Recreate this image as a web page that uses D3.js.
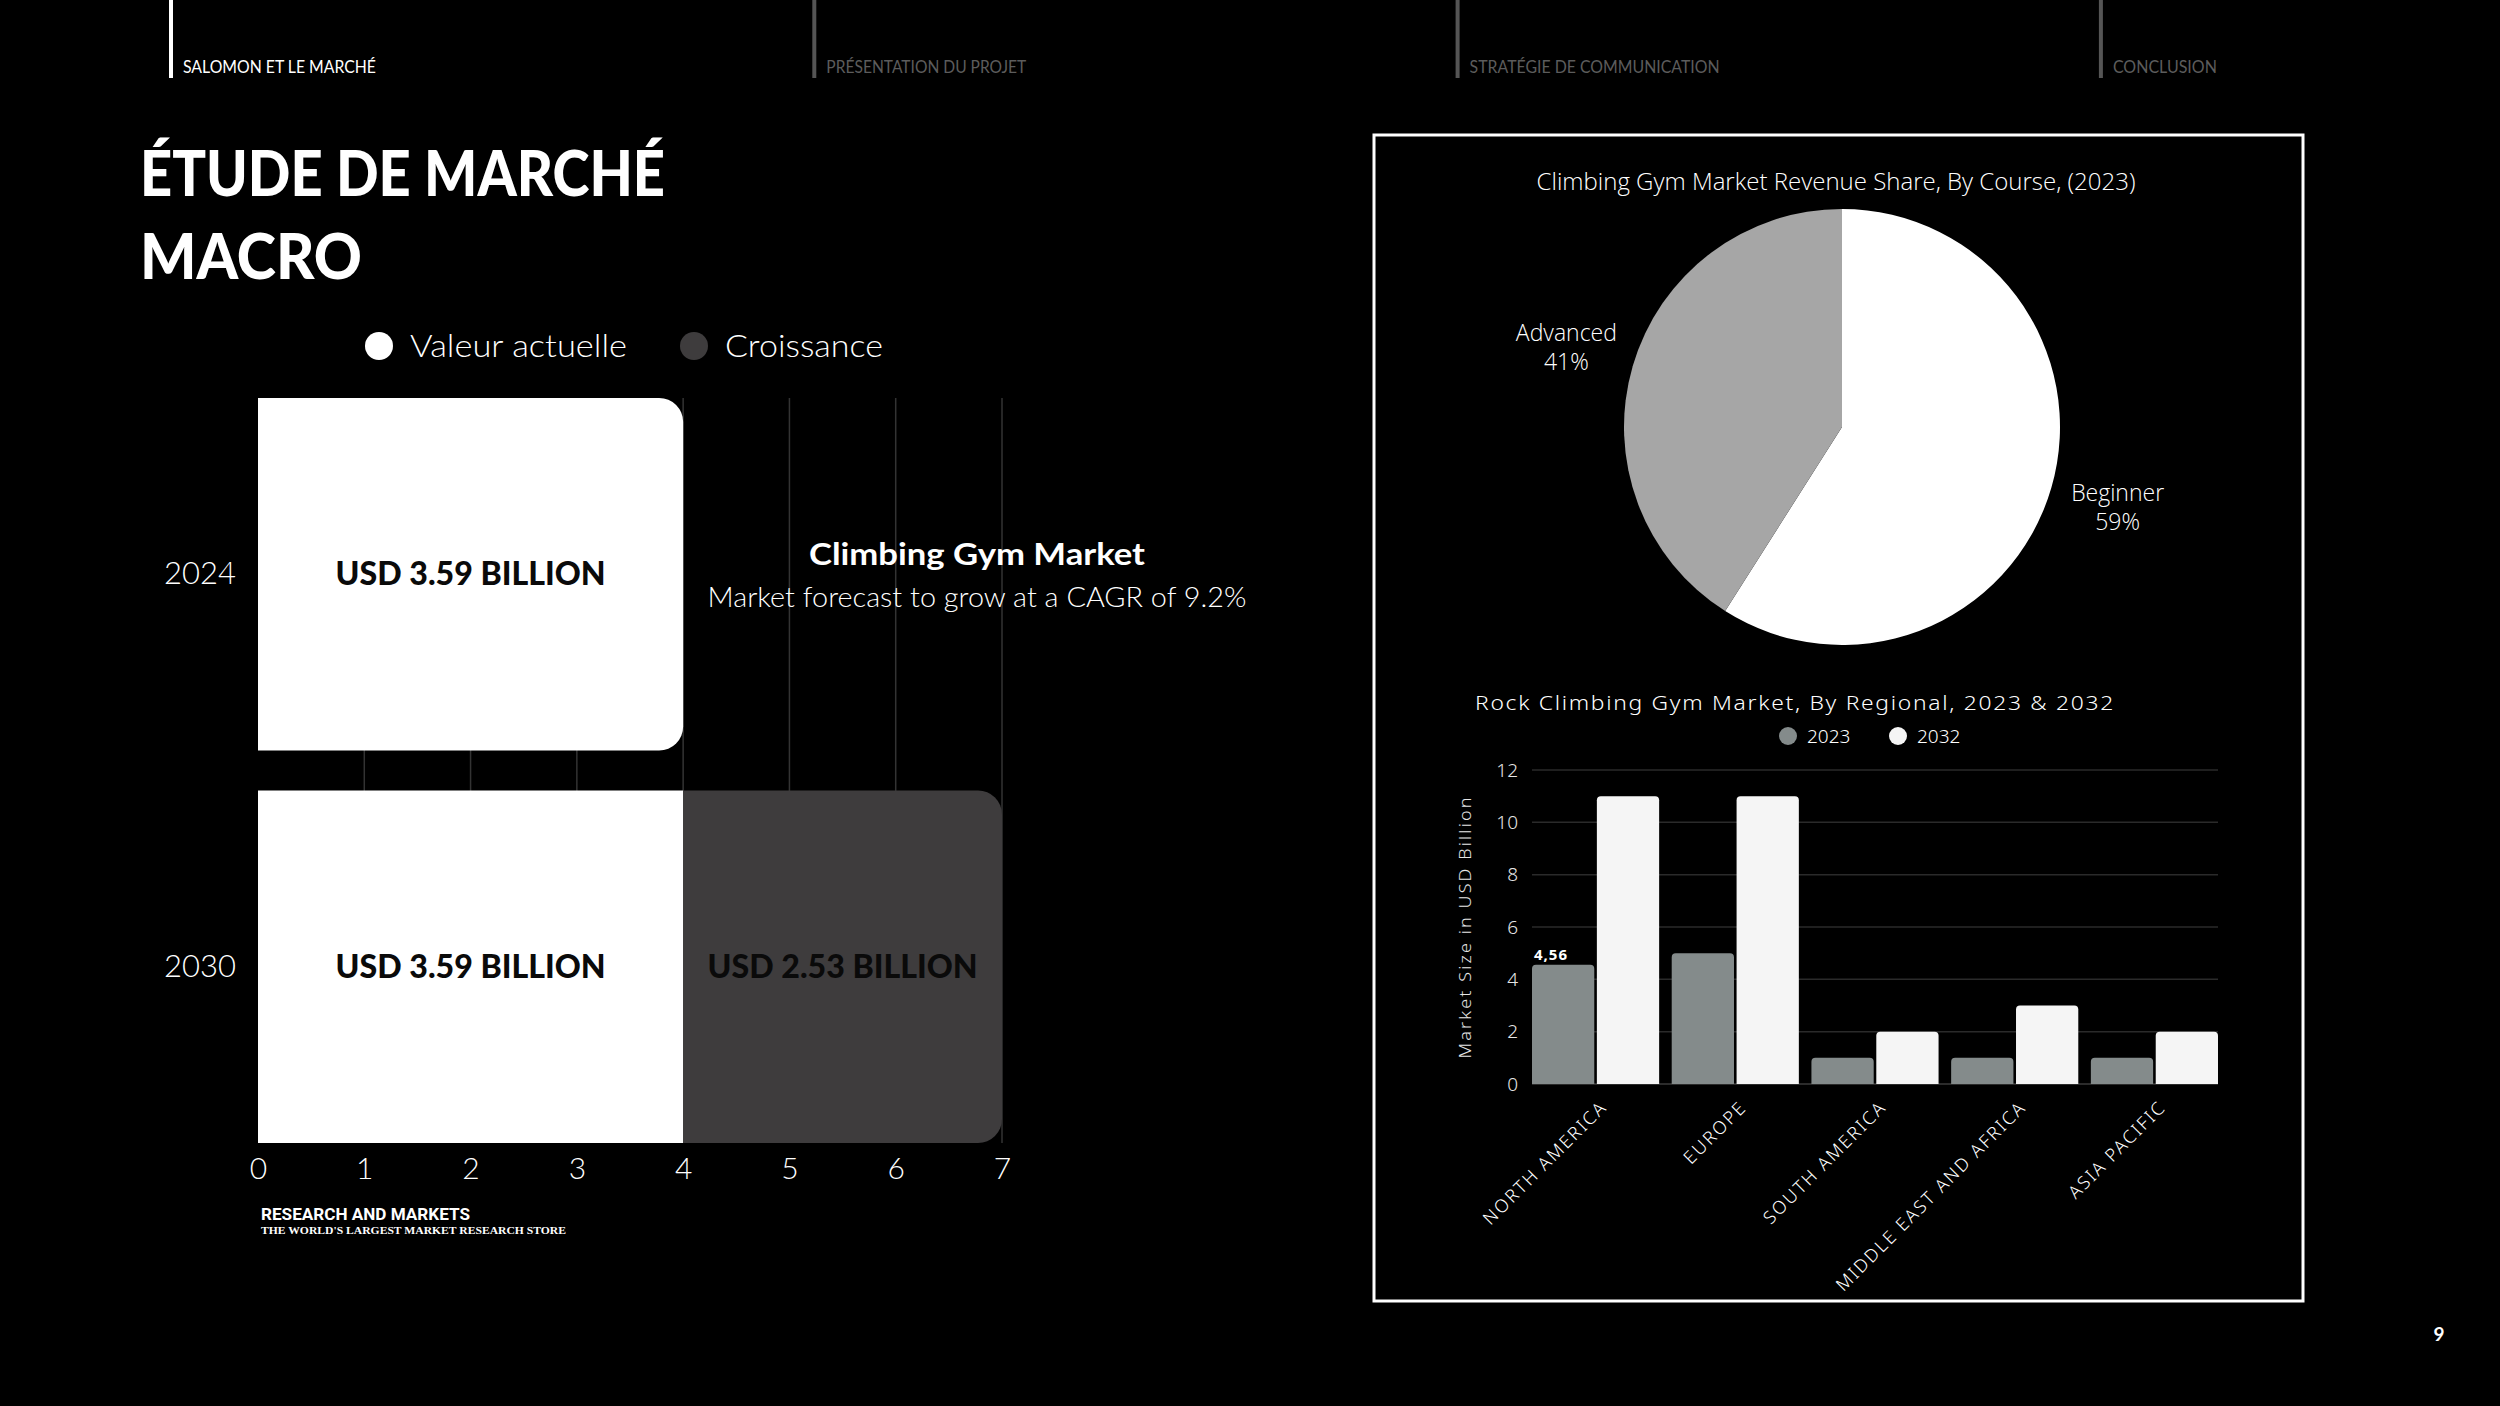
<!DOCTYPE html>
<html>
<head>
<meta charset="utf-8">
<script src="https://cdn.jsdelivr.net/npm/d3@7"></script>
<style>
  html, body { margin: 0; padding: 0; background: #000; }
  svg { display: block; }
</style>
</head>
<body>
<div id="slide"></div>
<script>
// slide header
const navItems = ["SALOMON ET LE MARCHÉ", "PRÉSENTATION DU PROJET", "STRATÉGIE DE COMMUNICATION", "CONCLUSION"];
const titleLines = ["ÉTUDE DE MARCHÉ", "MACRO"];

// left chart : market value
const marketYears = ["2024", "2030"];
const valeurActuelle = [4, 4];
const croissance = [0, 3];
const valeurLabels = ["USD 3.59 BILLION", "USD 3.59 BILLION"];
const croissanceLabels = ["", "USD 2.53 BILLION"];
const marketTicks = [0, 1, 2, 3, 4, 5, 6, 7];
const seriesNames = ["Valeur actuelle", "Croissance"];

// pie : revenue share by course
const courses = ["Beginner", "Advanced"];
const courseShare = [59, 41];

// regional bars
const regions = ["NORTH AMERICA", "EUROPE", "SOUTH AMERICA", "MIDDLE EAST AND AFRICA", "ASIA PACIFIC"];
const regionYears = ["2023", "2032"];
const size2023 = [4.56, 5, 1, 1, 1];
const size2032 = [11, 11, 2, 3, 2];
const sizeTicks = [0, 2, 4, 6, 8, 10, 12];

const W = 2500, H = 1406;
const svg = d3.select("#slide").append("svg")
  .attr("width", W)
  .attr("height", H);

svg.append("rect").attr("width", W).attr("height", H).attr("fill", "#000");

// Header nav
const nav = svg.append("g").selectAll("g")
  .data(navItems)
  .join("g")
  .attr("transform", (d, i) => `translate(${171 + i * 643.3},0)`);

nav.append("line")
  .attr("x1", 0).attr("x2", 0)
  .attr("y1", 0).attr("y2", 78)
  .attr("stroke", (d, i) => i === 0 ? "#fff" : "#555")
  .attr("stroke-width", 4);

const navWidths = [193, 200, 250, 104];
nav.append("text")
  .attr("x", 12)
  .attr("y", 73)
  .attr("fill", (d, i) => i === 0 ? "#fff" : "#5c5c5c")
  .style("font-family", "Lato, sans-serif")
  .style("font-size", "18px")
  .attr("textLength", (d, i) => navWidths[i])
  .attr("lengthAdjust", "spacingAndGlyphs")
  .text(d => d);

// Title
svg.append("g").selectAll("text")
  .data(titleLines)
  .join("text")
  .attr("x", 140)
  .attr("y", (d, i) => 196 + i * 83)
  .attr("fill", "#fff")
  .style("font-family", "Lato, sans-serif")
  .style("font-weight", 900)
  .style("font-size", "62px")
  .attr("textLength", (d, i) => i === 0 ? 525 : 222)
  .attr("lengthAdjust", "spacingAndGlyphs")
  .text(d => d);

// ---- Left chart ----
const x = d3.scaleLinear().domain([0, 7]).range([258, 1002]);
const y = d3.scaleBand().domain(marketYears).range([398, 1143]).paddingInner(0.102).paddingOuter(0);
const seriesColor = ["#ffffff", "#3e3c3d"];

// legend
const legendWidths = [217, 158];
const legend = svg.append("g").selectAll("g")
  .data(seriesNames)
  .join("g")
  .attr("transform", (d, i) => `translate(${i === 0 ? 379 : 694},346)`);
legend.append("circle").attr("r", 14).attr("fill", (d, i) => seriesColor[i]);
legend.append("text")
  .attr("x", 31)
  .attr("dy", "0.35em")
  .attr("fill", "#fff")
  .style("font-family", "Lato, sans-serif")
  .style("font-weight", 300)
  .style("font-size", "31px")
  .attr("textLength", (d, i) => legendWidths[i])
  .attr("lengthAdjust", "spacingAndGlyphs")
  .text(d => d);

// grid
svg.append("g").selectAll("line")
  .data(marketTicks.slice(1))
  .join("line")
  .attr("x1", d => x(d)).attr("x2", d => x(d))
  .attr("y1", y.range()[0]).attr("y2", y.range()[1])
  .attr("stroke", "#333")
  .attr("stroke-width", 1.5);

function barPath(x0, x1, y0, y1, r) {
  r = Math.min(r, (x1 - x0), (y1 - y0) / 2);
  if (r <= 0) return `M${x0},${y0}H${x1}V${y1}H${x0}Z`;
  return `M${x0},${y0}H${x1 - r}A${r},${r} 0 0 1 ${x1},${y0 + r}` +
    `V${y1 - r}A${r},${r} 0 0 1 ${x1 - r},${y1}H${x0}Z`;
}

const segments = [];
marketYears.forEach((yr, i) => {
  const v = valeurActuelle[i], c = croissance[i];
  segments.push({ year: yr, s: 0, x0: 0, x1: v, label: valeurLabels[i], last: c === 0 });
  if (c > 0) segments.push({ year: yr, s: 1, x0: v, x1: v + c, label: croissanceLabels[i], last: true });
});

const seg = svg.append("g").selectAll("g")
  .data(segments)
  .join("g");

seg.append("path")
  .attr("d", d => barPath(x(d.x0), x(d.x1), y(d.year), y(d.year) + y.bandwidth(), d.last ? 24 : 0))
  .attr("fill", d => seriesColor[d.s]);

seg.append("text")
  .attr("x", d => (x(d.x0) + x(d.x1)) / 2)
  .attr("y", d => y(d.year) + y.bandwidth() / 2)
  .attr("dy", "0.35em")
  .attr("text-anchor", "middle")
  .attr("fill", "#0a0a0a")
  .style("font-family", "Lato, sans-serif")
  .style("font-weight", 900)
  .style("font-size", "32px")
  .attr("textLength", 270)
  .attr("lengthAdjust", "spacingAndGlyphs")
  .text(d => d.label);

// axes
const xAxis = svg.append("g")
  .attr("transform", `translate(0,${y.range()[1]})`)
  .call(d3.axisBottom(x).tickValues(marketTicks).tickFormat(d3.format("d")).tickSize(0).tickPadding(15));
xAxis.select(".domain").remove();
xAxis.selectAll("text")
  .attr("fill", "#fff")
  .style("font-family", "Lato, sans-serif")
  .style("font-weight", 300)
  .style("font-size", "30px");

const yAxis = svg.append("g")
  .attr("transform", `translate(${x(0)},0)`)
  .call(d3.axisLeft(y).tickSize(0).tickPadding(22));
yAxis.select(".domain").remove();
yAxis.selectAll("text")
  .attr("fill", "#fff")
  .style("font-family", "Lato, sans-serif")
  .style("font-weight", 300)
  .style("font-size", "31px");

// annotation
svg.append("text")
  .attr("x", 977).attr("y", 565)
  .attr("text-anchor", "middle")
  .attr("fill", "#fff")
  .style("font-family", "Lato, sans-serif")
  .style("font-weight", 700)
  .style("font-size", "31px")
  .attr("textLength", 336)
  .attr("lengthAdjust", "spacingAndGlyphs")
  .text("Climbing Gym Market");
svg.append("text")
  .attr("x", 977).attr("y", 607)
  .attr("text-anchor", "middle")
  .attr("fill", "#fff")
  .style("font-family", "Lato, sans-serif")
  .style("font-weight", 300)
  .style("font-size", "27px")
  .attr("textLength", 539)
  .attr("lengthAdjust", "spacingAndGlyphs")
  .text("Market forecast to grow at a CAGR of 9.2%");

// source
svg.append("text")
  .attr("x", 261).attr("y", 1220)
  .attr("fill", "#fff")
  .style("font-family", "Roboto, sans-serif")
  .style("font-weight", 700)
  .style("font-size", "16px")
  .attr("textLength", 209)
  .attr("lengthAdjust", "spacingAndGlyphs")
  .text("RESEARCH AND MARKETS");
svg.append("text")
  .attr("x", 261).attr("y", 1234)
  .attr("fill", "#fff")
  .style("font-family", "'Liberation Serif', serif")
  .style("font-weight", 700)
  .style("font-size", "11px")
  .attr("textLength", 305)
  .attr("lengthAdjust", "spacingAndGlyphs")
  .text("THE WORLD'S LARGEST MARKET RESEARCH STORE");

// ---- Right panel ----
svg.append("rect")
  .attr("x", 1374).attr("y", 135)
  .attr("width", 929).attr("height", 1166)
  .attr("fill", "none")
  .attr("stroke", "#fff")
  .attr("stroke-width", 3);

// pie
svg.append("text")
  .attr("x", 1836).attr("y", 190)
  .attr("text-anchor", "middle")
  .attr("fill", "#fff")
  .style("font-family", "'Open Sans', sans-serif")
  .style("font-weight", 300)
  .style("font-size", "24px")
  .text("Climbing Gym Market Revenue Share, By Course, (2023)");

const pieColor = ["#ffffff", "#a6a6a6"];
const pieData = d3.pie().sort(null).value(d => d.v)(courses.map((c, i) => ({ c, v: courseShare[i] })));
const arc = d3.arc().innerRadius(0).outerRadius(218);
const labelArc = d3.arc().innerRadius(287).outerRadius(287);

const pie = svg.append("g").attr("transform", "translate(1842,427)");
pie.selectAll("path")
  .data(pieData)
  .join("path")
  .attr("d", arc)
  .attr("fill", (d, i) => pieColor[i]);

const pl = pie.selectAll("text")
  .data(pieData)
  .join("text")
  .attr("transform", d => `translate(${labelArc.centroid(d)})`)
  .attr("text-anchor", "middle")
  .attr("fill", "#fff")
  .style("font-family", "'Open Sans', sans-serif")
  .style("font-weight", 300)
  .style("font-size", "23px");
pl.append("tspan").attr("x", 0).attr("y", -6).text(d => d.data.c);
pl.append("tspan").attr("x", 0).attr("y", 23).text(d => d.data.v + "%");

// regional bar chart
const gx = d3.scaleBand().domain(regions).range([1532, 2218]).paddingInner(0.09).paddingOuter(0);
const sx = d3.scaleBand().domain(regionYears).range([0, gx.bandwidth()]).paddingInner(0.04);
const gy = d3.scaleLinear().domain([0, 12]).range([1084, 770]);
const regionColor = { "2023": "#848b8b", "2032": "#f5f5f5" };

svg.append("text")
  .attr("x", 1795).attr("y", 710)
  .attr("text-anchor", "middle")
  .attr("fill", "#fff")
  .style("font-family", "'Noto Sans', sans-serif")
  .style("font-weight", 300)
  .style("font-size", "20px")
  .attr("letter-spacing", "1.5px")
  .attr("textLength", 640)
  .attr("lengthAdjust", "spacingAndGlyphs")
  .text("Rock Climbing Gym Market, By Regional, 2023 & 2032");

const rl = svg.append("g").selectAll("g")
  .data(regionYears)
  .join("g")
  .attr("transform", (d, i) => `translate(${1788 + i * 110},736)`);
rl.append("circle").attr("r", 9).attr("fill", d => regionColor[d]);
rl.append("text")
  .attr("x", 19)
  .attr("dy", "0.35em")
  .attr("fill", "#fff")
  .style("font-family", "'Noto Sans', sans-serif")
  .style("font-weight", 300)
  .style("font-size", "19px")
  .text(d => d);

svg.append("g").selectAll("line")
  .data(sizeTicks)
  .join("line")
  .attr("x1", 1532).attr("x2", 2218)
  .attr("y1", d => gy(d)).attr("y2", d => gy(d))
  .attr("stroke", d => d === 0 ? "#3a3a3a" : "#2a2a2a")
  .attr("stroke-width", 1.5);

const gAxis = svg.append("g")
  .attr("transform", "translate(1532,0)")
  .call(d3.axisLeft(gy).tickValues(sizeTicks).tickSize(0).tickPadding(14));
gAxis.select(".domain").remove();
gAxis.selectAll("text")
  .attr("fill", "#e6e6e6")
  .style("font-family", "'Noto Sans', sans-serif")
  .style("font-weight", 300)
  .style("font-size", "19px");

svg.append("text")
  .attr("transform", "translate(1471,927) rotate(-90)")
  .attr("text-anchor", "middle")
  .attr("fill", "#e6e6e6")
  .style("font-family", "'Noto Sans', sans-serif")
  .style("font-weight", 300)
  .style("font-size", "17px")
  .attr("letter-spacing", "2px")
  .attr("textLength", 263)
  .attr("lengthAdjust", "spacingAndGlyphs")
  .text("Market Size in USD Billion");

function topRounded(x0, x1, y0, y1, r) {
  return `M${x0},${y1}V${y0 + r}A${r},${r} 0 0 1 ${x0 + r},${y0}H${x1 - r}` +
    `A${r},${r} 0 0 1 ${x1},${y0 + r}V${y1}Z`;
}

const groups = svg.append("g").selectAll("g")
  .data(regions.map((r, i) => ({ r, vals: [{ yr: "2023", v: size2023[i] }, { yr: "2032", v: size2032[i] }] })))
  .join("g")
  .attr("transform", d => `translate(${gx(d.r)},0)`);

groups.selectAll("path")
  .data(d => d.vals)
  .join("path")
  .attr("d", d => topRounded(sx(d.yr), sx(d.yr) + sx.bandwidth(), gy(d.v), gy(0), 4))
  .attr("fill", d => regionColor[d.yr]);

// data label on first bar only
svg.append("text")
  .attr("x", gx(regions[0]) + sx("2023") + 2)
  .attr("y", gy(size2023[0]) - 5)
  .attr("fill", "#fff")
  .style("font-family", "'Noto Sans', sans-serif")
  .style("font-weight", 700)
  .style("font-size", "15px")
  .attr("letter-spacing", "1px")
  .text(String(size2023[0]).replace(".", ","));

svg.append("g").selectAll("text")
  .data(regions)
  .join("text")
  .attr("transform", d => `translate(${gx(d) + gx.bandwidth() / 2 + 8},1104) rotate(-45)`)
  .attr("text-anchor", "end")
  .attr("dy", "0.35em")
  .attr("fill", "#fff")
  .style("font-family", "'Noto Sans', sans-serif")
  .style("font-weight", 300)
  .style("font-size", "18px")
  .attr("letter-spacing", "2px")
  .text(d => d);

// page number
svg.append("text")
  .attr("x", 2439).attr("y", 1341)
  .attr("text-anchor", "middle")
  .attr("fill", "#fff")
  .style("font-family", "Lato, sans-serif")
  .style("font-weight", 700)
  .style("font-size", "19px")
  .text("9");
</script>
</body>
</html>
